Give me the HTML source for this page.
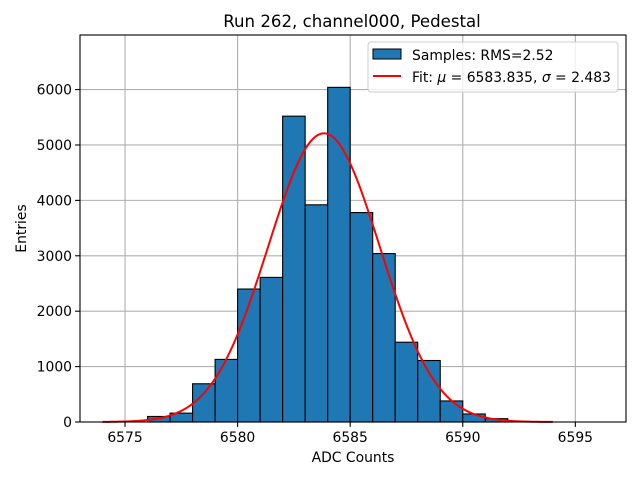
<!DOCTYPE html>
<html><head><meta charset="utf-8"><style>
body{margin:0;background:#fff}
svg text{font-family:"DejaVu Sans","Liberation Sans",sans-serif;fill:#000}
</style></head><body>
<svg id="c" width="640" height="480" xmlns="http://www.w3.org/2000/svg">
<rect width="640" height="480" fill="#fff"/>
<g id="grid"></g>
<g id="bars"></g>
<path id="fit" fill="none" stroke="#ff0000" stroke-width="2"/>
<rect x="80" y="35" width="546" height="387" fill="none" stroke="#000" stroke-width="1.1"/>
<g id="ticks"></g>
<text x="352" y="27" font-size="16.6" text-anchor="middle">Run 262, channel000, Pedestal</text>
<text x="353" y="462" font-size="13.9" text-anchor="middle">ADC Counts</text>
<text transform="translate(26,228.5) rotate(-90)" font-size="13.9" text-anchor="middle">Entries</text>
<g>
<rect x="368" y="42" width="250" height="50" rx="3" fill="#fff" fill-opacity="0.8" stroke="#ccc"/>
<rect x="373" y="49" width="28" height="10" fill="#1f77b4" stroke="#000"/>
<text x="412" y="60" font-size="13.9">Samples: RMS=2.52</text>
<line x1="373" y1="76" x2="401" y2="76" stroke="#ff0000" stroke-width="2"/>
<text x="412" y="82" font-size="13.9">Fit: <tspan font-style="italic">μ</tspan> = 6583.835, <tspan font-style="italic">σ</tspan> = 2.483</text>
</g>
</svg>
<script>
const binEdgesStart = [6576,6577,6578,6579,6580,6581,6582,6583,6584,6585,6586,6587,6588,6589,6590,6591];
const counts = [100,160,690,1130,2400,2610,5520,3920,6040,3780,3040,1440,1110,380,145,60];
const xTicks = [6575,6580,6585,6590,6595];
const yTicks = [0,1000,2000,3000,4000,5000,6000];
const fitMu = 6583.835, fitSigma = 2.483, fitAmp = 5210;
const fitRange = [6574,6594];
const NS="http://www.w3.org/2000/svg";
const X0=80,X1=626,Y0=422,Y1=35,xmin=6573,xmax=6597.25,ymin=0,ymax=6985;
const sx=v=>X0+(v-xmin)/(xmax-xmin)*(X1-X0);
const sy=v=>Y0-(v-ymin)/(ymax-ymin)*(Y0-Y1);
function mk(t,a,p){const e=document.createElementNS(NS,t);for(const k in a)e.setAttribute(k,a[k]);p.appendChild(e);return e;}
const g=document.getElementById('grid'),b=document.getElementById('bars'),tk=document.getElementById('ticks');
xTicks.forEach(v=>{const x=sx(v);
 const l=mk('line',{x1:x,x2:x,y1:Y1,y2:Y0,stroke:'#b0b0b0','stroke-width':1.1},g);
 
 
 const t=mk('line',{x1:x,x2:x,y1:Y0,y2:Y0+4.9,stroke:'#000','stroke-width':1.1},tk);
 
 
 const s=mk('text',{x:x,y:Y0+20,'font-size':13.9,'text-anchor':'middle'},tk);s.textContent=v;
 
 
});
yTicks.forEach(v=>{const y=sy(v);
 const l=mk('line',{x1:X0,x2:X1,y1:y,y2:y,stroke:'#b0b0b0','stroke-width':1.1},g);
 
 
 const t=mk('line',{x1:X0-4.9,x2:X0,y1:y,y2:y,stroke:'#000','stroke-width':1.1},tk);
 
 
 const s=mk('text',{x:X0-8,y:y+5,'font-size':13.9,'text-anchor':'end'},tk);s.textContent=v;
 
 
});
binEdgesStart.forEach((e,i)=>{const x=sx(e),w=sx(e+1)-x,y=sy(counts[i]);
 const r=mk('rect',{x:x,y:y,width:w,height:Y0-y,fill:'#1f77b4',stroke:'#000','stroke-width':1.1},b);
 
 
});
let d='';for(let i=0;i<=400;i++){const v=fitRange[0]+(fitRange[1]-fitRange[0])*i/400;
 const f=fitAmp*Math.exp(-0.5*((v-fitMu)/fitSigma)**2);d+=(i?'L':'M')+sx(v).toFixed(2)+','+sy(f).toFixed(2);}
document.getElementById('fit').setAttribute('d',d);
</script>
</body></html>
